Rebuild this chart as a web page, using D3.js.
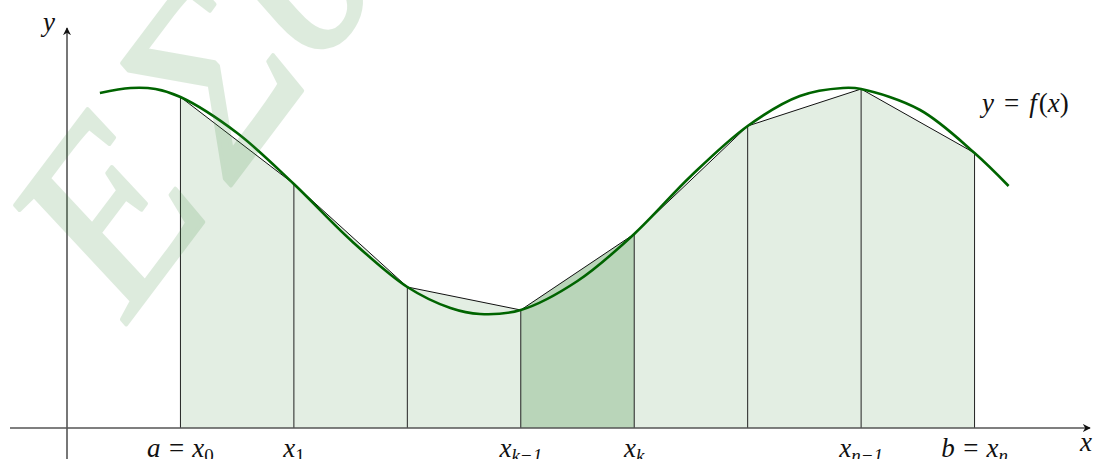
<!DOCTYPE html>
<html>
<head>
<meta charset="utf-8">
<script src="https://cdn.jsdelivr.net/npm/d3@7"></script>
<style>
  html, body { margin: 0; padding: 0; background: #fff; }
  svg { display: block; }
</style>
</head>
<body>
<svg id="chart" width="1096" height="459"></svg>
<script>
'use strict'

// partition points x_0 .. x_7 and f at those points
var nodeX = [1, 2, 3, 4, 5, 6, 7, 8]
var nodeY = [3.31, 2.44, 1.41, 1.18, 1.94, 3.02, 3.39, 2.75]

// the strip that is highlighted (x_{k-1} .. x_k)
var highlight = 3

// samples of the curve y = f(x)
var curveX = [0.29, 0.56, 0.78, 1, 1.5, 2, 2.5, 3, 3.38, 3.64, 4, 4.5, 5, 5.5, 6, 6.46, 6.84, 7, 7.52, 8, 8.3]
var curveY = [3.35, 3.40, 3.39, 3.31, 2.95, 2.44, 1.88, 1.41, 1.20, 1.14, 1.18, 1.47, 1.94, 2.52, 3.02, 3.32, 3.40, 3.39, 3.18, 2.75, 2.42]

// tick labels under the nodes: [main, subscript]
var tickLabels = {
  0: ['a = x', '0'],
  1: ['x', '1'],
  3: ['x', 'k\u22121'],
  4: ['x', 'k'],
  6: ['x', 'n\u22121'],
  7: ['b = x', 'n']
}

var serif = 'Liberation Serif'

var svg = d3.select('#chart'),
  width = +svg.attr('width'),
  height = +svg.attr('height')

var x = d3.scaleLinear().domain([0, 9]).range([67, 1088])
var y = d3.scaleLinear().domain([0, 4]).range([428, 28])

var config = {
  fill: '#e3eee3',
  fillDark: '#b9d5b9',
  curve: '#006400',
  axis: '#555',
  fontSize: 27
}

var defs = svg.append('defs')
defs.append('marker')
  .attr('id', 'arrow')
  .attr('viewBox', '0 0 10 10')
  .attr('refX', 9).attr('refY', 5)
  .attr('markerWidth', 8).attr('markerHeight', 8)
  .attr('markerUnits', 'userSpaceOnUse')
  .attr('orient', 'auto')
  .append('path')
  .attr('d', 'M0,0 L10,5 L0,10 L3,5 Z')
  .attr('fill', '#111')

// trapezoids
var strips = d3.range(nodeX.length - 1)
svg.append('g').selectAll('path')
  .data(strips)
  .enter().append('path')
  .attr('d', function(i) {
    return 'M' + x(nodeX[i]) + ',' + y(0) +
      'L' + x(nodeX[i]) + ',' + y(nodeY[i]) +
      'L' + x(nodeX[i + 1]) + ',' + y(nodeY[i + 1]) +
      'L' + x(nodeX[i + 1]) + ',' + y(0) + 'Z'
  })
  .attr('fill', function(i) { return i == highlight ? config.fillDark : config.fill })
  .attr('stroke', 'none')

// verticals
svg.append('g').selectAll('line')
  .data(nodeX)
  .enter().append('line')
  .attr('x1', function(d) { return x(d) })
  .attr('x2', function(d) { return x(d) })
  .attr('y1', y(0))
  .attr('y2', function(d, i) { return y(nodeY[i]) })
  .attr('stroke', '#222')
  .attr('stroke-width', 1)

// chords
svg.append('path')
  .datum(nodeX)
  .attr('d', d3.line()
    .x(function(d) { return x(d) })
    .y(function(d, i) { return y(nodeY[i]) }))
  .attr('fill', 'none')
  .attr('stroke', '#111')
  .attr('stroke-width', 1)

// axes
svg.append('line')
  .attr('x1', 10).attr('x2', 1090)
  .attr('y1', y(0)).attr('y2', y(0))
  .attr('stroke', config.axis).attr('stroke-width', 1.6)
  .attr('marker-end', 'url(#arrow)')
svg.append('line')
  .attr('x1', x(0)).attr('x2', x(0))
  .attr('y1', height).attr('y2', 28)
  .attr('stroke', config.axis).attr('stroke-width', 1.6)
  .attr('marker-end', 'url(#arrow)')

// the curve
svg.append('path')
  .datum(d3.range(curveX.length))
  .attr('d', d3.line()
    .curve(d3.curveCatmullRom.alpha(0.5))
    .x(function(i) { return x(curveX[i]) })
    .y(function(i) { return y(curveY[i]) }))
  .attr('fill', 'none')
  .attr('stroke', config.curve)
  .attr('stroke-width', 2.6)

// labels
var labels = svg.append('g')
  .style('font-family', serif)
  .attr('font-style', 'italic')
  .attr('font-size', config.fontSize)
  .attr('fill', '#111')

Object.keys(tickLabels).forEach(function(k) {
  var t = labels.append('text')
    .attr('x', x(nodeX[+k]))
    .attr('y', 457)
    .attr('text-anchor', 'middle')
  t.append('tspan').text(tickLabels[k][0])
  t.append('tspan').attr('dy', 5).attr('font-size', 19)
    .attr('font-style', /^\d/.test(tickLabels[k][1]) ? 'normal' : 'italic')
    .text(tickLabels[k][1])
})

labels.append('text').attr('x', 43).attr('y', 31).text('y')
labels.append('text').attr('x', 1080).attr('y', 451).text('x')

var fx = labels.append('text').attr('x', 982).attr('y', 112)
fx.append('tspan').text('y')
fx.append('tspan').attr('dx', 10).attr('font-style', 'normal').text('=')
fx.append('tspan').attr('dx', 10).text('f')
fx.append('tspan').attr('dx', 2).attr('font-style', 'normal').text('(')
fx.append('tspan').text('x')
fx.append('tspan').attr('font-style', 'normal').text(')')

// watermark
var wm = svg.append('text')
  .attr('transform', 'translate(128,322) rotate(-53)')
  .style('font-family', serif)
  .attr('font-size', 245)
  .attr('font-style', 'italic')
  .attr('fill', 'rgb(60,140,60)')
  .attr('stroke', 'rgb(60,140,60)')
  .attr('stroke-width', 4)
  .attr('stroke-linejoin', 'round')
  .attr('opacity', 0.17)
wm.append('tspan').text('Ε')
wm.append('tspan').attr('dx', 22).text('Συν')

</script>
</body>
</html>
